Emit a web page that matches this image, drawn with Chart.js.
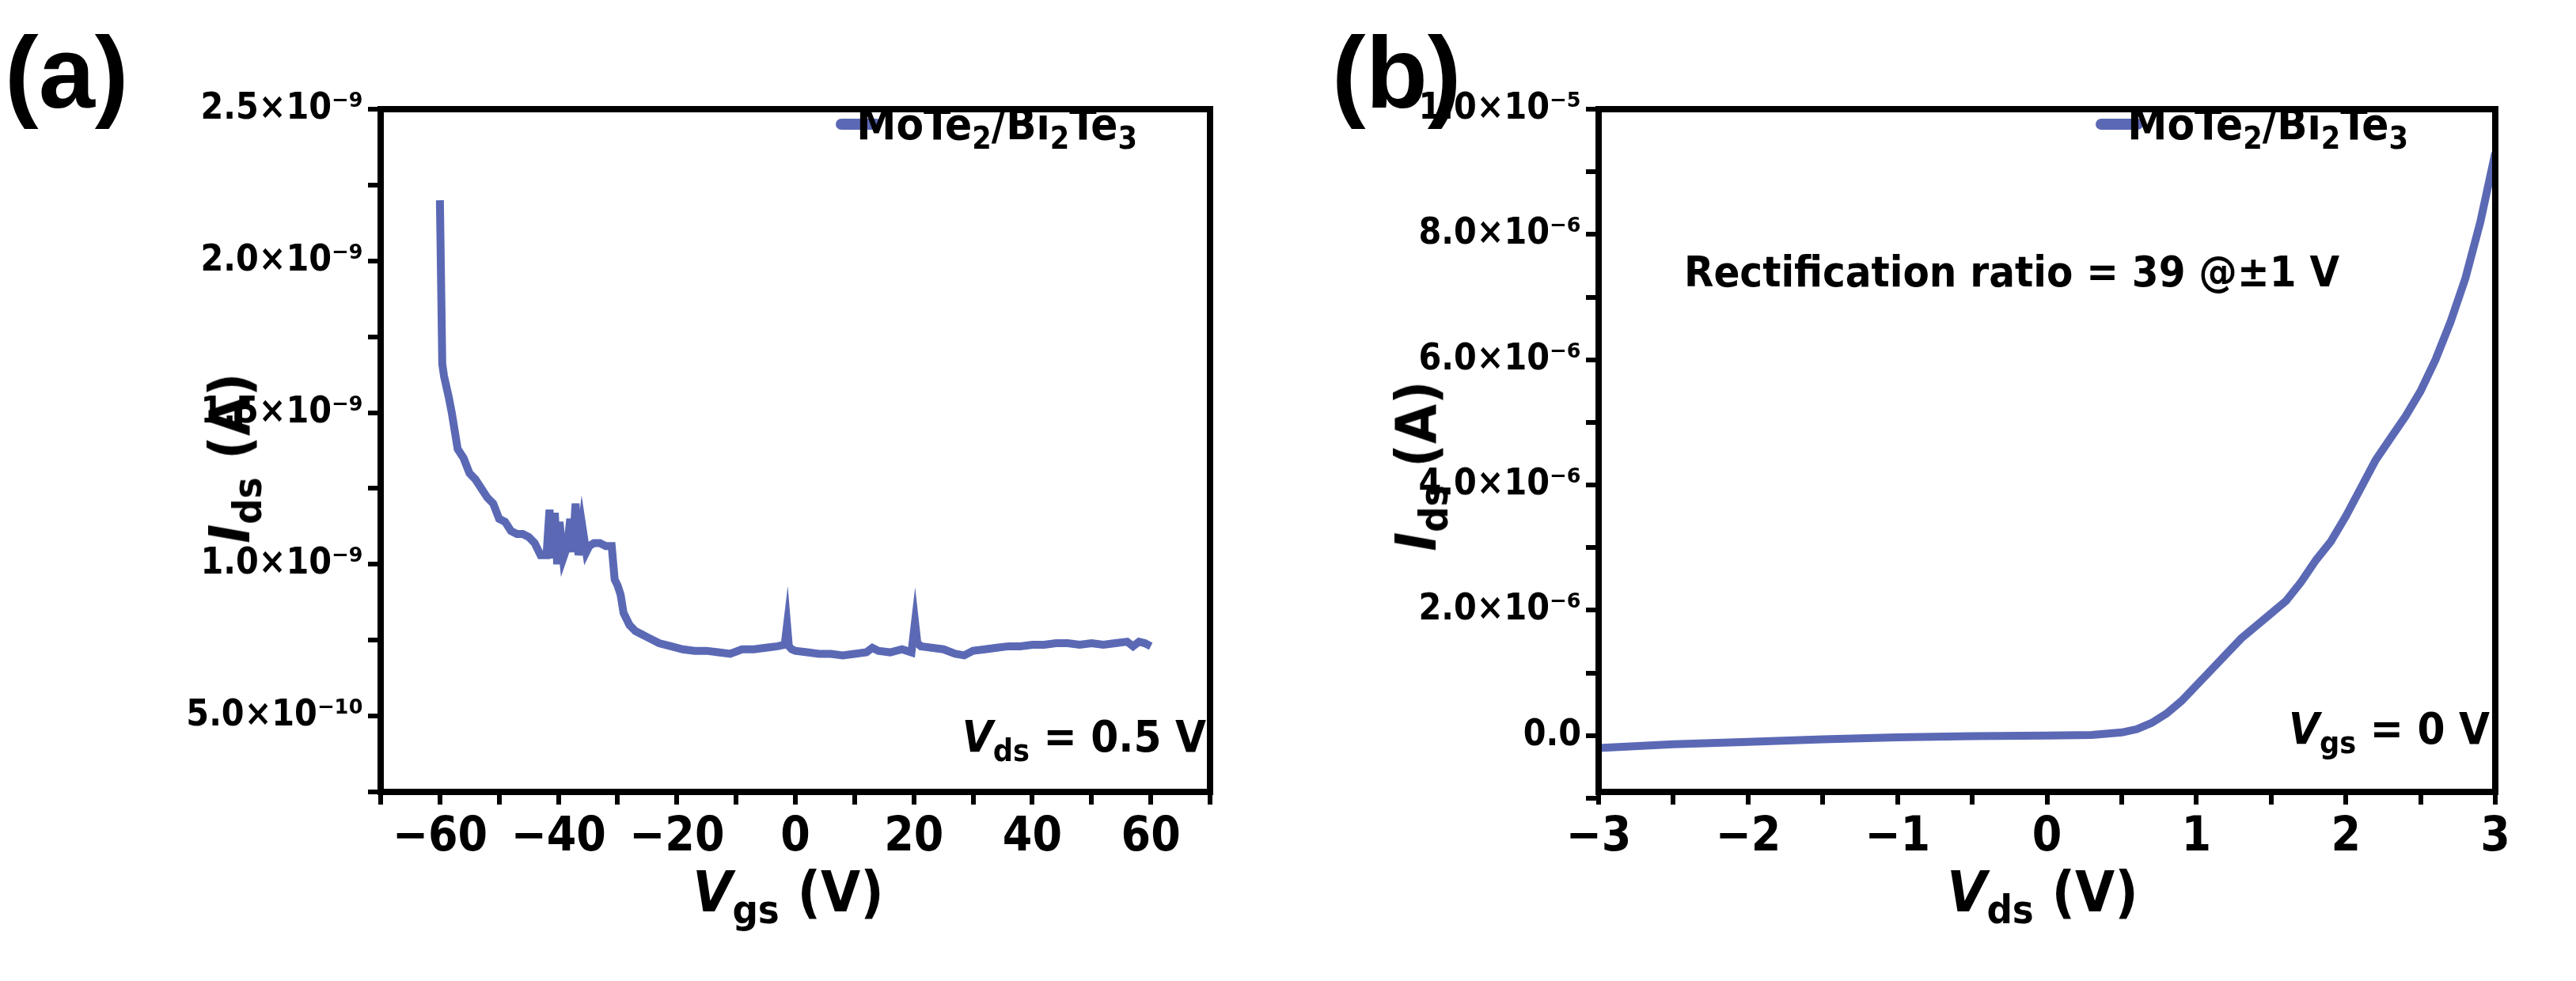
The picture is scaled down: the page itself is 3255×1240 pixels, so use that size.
<!DOCTYPE html>
<html>
<head>
<meta charset="utf-8">
<script src="https://cdn.jsdelivr.net/npm/chart.js@4/dist/chart.umd.min.js"></script>
<style>
  body { margin: 0; width: 3255px; height: 1240px; background: #fff; position: relative; overflow: hidden;
         font-family: "Liberation Sans Narrow", "DejaVu Sans Condensed", sans-serif; font-weight: bold; color: #000; }
  .box { position: absolute; top: 0; height: 1240px; }
  .t { position: absolute; white-space: nowrap; }
  .lg { position: absolute; height: 14px; background: #5b69b5; border-radius: 7px; }
  sub { font-size: 70%; vertical-align: -0.3em; line-height: 0; }
</style>
</head>
<body>
<div class="box" style="left:0;width:1620px"><canvas id="chartA"></canvas></div>
<div class="box" style="left:1620px;width:1635px"><canvas id="chartB"></canvas></div>

<div class="t" style="left:6px;top:18px;font-size:128px;font-family:'Liberation Sans',sans-serif">(a)</div>
<div class="t" style="left:1683px;top:18px;font-size:128px;font-family:'Liberation Sans',sans-serif">(b)</div>

<div class="lg" style="left:1056px;top:150px;width:58px"></div>
<div class="t" style="right:calc(3255px - 1437px);top:124px;font-size:56px">MoTe<sub>2</sub>/Bi<sub>2</sub>Te<sub>3</sub></div>
<div class="lg" style="left:2648px;top:150px;width:60px"></div>
<div class="t" style="right:calc(3255px - 3043px);top:124px;font-size:56px">MoTe<sub>2</sub>/Bi<sub>2</sub>Te<sub>3</sub></div>

<div class="t" style="right:calc(3255px - 1524px);top:898px;font-size:56px"><i>V</i><sub>ds</sub> = 0.5 V</div>
<div class="t" style="right:calc(3255px - 3146px);top:888px;font-size:56px"><i>V</i><sub>gs</sub> = 0 V</div>
<div class="t" style="left:2128px;top:312px;font-size:54px">Rectification ratio = 39 @±1 V</div>

<div class="t" style="left:996px;top:1127px;font-size:72px;transform:translate(-50%,-50%)"><i>V</i><sub>gs</sub> (V)</div>
<div class="t" style="left:2581px;top:1127px;font-size:72px;transform:translate(-50%,-50%)"><i>V</i><sub>ds</sub> (V)</div>
<div class="t" style="left:290px;top:579px;font-size:72px;transform:translate(-50%,-50%) rotate(-90deg)"><i>I</i><sub>ds</sub> (A)</div>
<div class="t" style="left:1789px;top:589px;font-size:72px;transform:translate(-50%,-50%) rotate(-90deg)"><i>I</i><sub>ds</sub> (A)</div>

<script>
// panel (a): transfer curve, Vds = 0.5 V
const vgs = [-60, -59.6, -59.3, -58.5, -58, -57, -56, -55, -54, -53, -52, -51, -50, -49, -48, -47, -46, -45, -44, -43, -42,
  -41.5, -41, -40.6, -40.2, -39.8, -39.2, -38.5, -38, -37.6, -37.1, -36.6, -36, -35.3, -34.8, -34, -33, -32, -31, -30.5, -30,
  -29.5, -29, -28, -27, -26, -25, -23, -21, -19, -17, -15, -13, -11, -9, -7, -5, -3, -1.8, -1.4, -1.1, -0.6, 0,
  2, 4, 6, 8, 10, 12, 13, 14, 16, 18, 19.6, 20.2, 20.6, 21.2, 23, 25, 27, 28.5, 30, 32, 34, 36, 38, 40, 42, 44, 46,
  48, 50, 52, 54, 56, 57, 58, 59, 60];
const idsA = [2.2, 1.66, 1.62, 1.55, 1.5, 1.38, 1.35, 1.3, 1.28, 1.25, 1.22, 1.2, 1.15, 1.14, 1.11, 1.1, 1.1, 1.09, 1.07, 1.03, 1.03,
  1.18, 1.02, 1.17, 1.0, 1.14, 1.02, 1.06, 1.15, 1.04, 1.2, 1.03, 1.13, 1.04, 1.06, 1.07, 1.07, 1.06, 1.06, 0.95, 0.93,
  0.9, 0.84, 0.8, 0.78, 0.77, 0.76, 0.74, 0.73, 0.72, 0.715, 0.715, 0.71, 0.705, 0.72, 0.72, 0.725, 0.73, 0.735, 0.8, 0.73, 0.72, 0.715,
  0.71, 0.705, 0.705, 0.7, 0.705, 0.71, 0.725, 0.715, 0.71, 0.72, 0.71, 0.81, 0.74, 0.73, 0.725, 0.72, 0.705, 0.7, 0.715, 0.72, 0.725, 0.73, 0.73, 0.735, 0.735, 0.74, 0.74,
  0.735, 0.74, 0.735, 0.74, 0.745, 0.73, 0.745, 0.74, 0.73];
const yTicksA = [0.25e-9, 0.5e-9, 0.75e-9, 1.0e-9, 1.25e-9, 1.5e-9, 1.75e-9, 2.0e-9, 2.25e-9, 2.5e-9];
const yLabelsA = ['', '5.0×10⁻¹⁰', '', '1.0×10⁻⁹', '', '1.5×10⁻⁹', '', '2.0×10⁻⁹', '', '2.5×10⁻⁹'];
const xTicksA = [-70, -60, -50, -40, -30, -20, -10, 0, 10, 20, 30, 40, 50, 60, 70];

// panel (b): output curve, Vgs = 0 V
const vds = [-3, -2.5, -2, -1.5, -1, -0.5, 0, 0.3, 0.5, 0.6, 0.7, 0.8, 0.9, 1.0, 1.1, 1.2, 1.3, 1.4, 1.5, 1.6, 1.7,
  1.8, 1.9, 2.0, 2.1, 2.2, 2.3, 2.4, 2.5, 2.6, 2.7, 2.8, 2.9, 3.0];
const idsB = [-0.2, -0.14, -0.1, -0.06, -0.03, -0.01, 0, 0.01, 0.05, 0.1, 0.2, 0.35, 0.55, 0.8, 1.05, 1.3, 1.55, 1.75, 1.95, 2.15, 2.45,
  2.8, 3.1, 3.5, 3.95, 4.4, 4.75, 5.1, 5.5, 6.0, 6.6, 7.3, 8.2, 9.3];
const yTicksB = [-1e-6, 0, 1e-6, 2e-6, 3e-6, 4e-6, 5e-6, 6e-6, 7e-6, 8e-6, 9e-6, 1e-5];
const yLabelsB = ['', '0.0', '', '2.0×10⁻⁶', '', '4.0×10⁻⁶', '', '6.0×10⁻⁶', '', '8.0×10⁻⁶', '', '1.0×10⁻⁵'];
const xTicksB = [-3, -2.5, -2, -1.5, -1, -0.5, 0, 0.5, 1, 1.5, 2, 2.5, 3];

const lineColor = '#5b69b5';
const font = '"Liberation Sans Narrow", "DejaVu Sans Condensed", sans-serif';

const frame = {
  id: 'frame',
  afterDraw(chart) {
    const a = chart.chartArea, c = chart.ctx;
    c.save();
    c.strokeStyle = '#000';
    c.lineWidth = 8;
    c.strokeRect(a.left, a.top, a.right - a.left, a.bottom - a.top);
    c.restore();
  }
};

function makeChart(id, xs, ys, scaleY, xMin, xMax, yMin, yMax, xTicks, xLabel, yTicks, yLabels, area) {
  const pts = xs.map((x, i) => ({ x: x, y: ys[i] * scaleY }));
  return new Chart(document.getElementById(id), {
    type: 'scatter',
    data: { datasets: [{ data: pts, showLine: true, borderColor: lineColor, borderWidth: 10,
      pointRadius: 0, tension: 0 }] },
    plugins: [frame],
    options: {
      responsive: true, maintainAspectRatio: false, animation: false,
      layout: { padding: { top: area.top, right: area.right, left: 0, bottom: 0 } },
      plugins: { legend: { display: false }, tooltip: { enabled: false } },
      scales: {
        x: {
          type: 'linear', min: xMin, max: xMax,
          afterFit(s) { s.height = area.xh; },
          afterBuildTicks(s) { s.ticks = xTicks.map(v => ({ value: v })); },
          grid: { drawOnChartArea: false, color: '#000', lineWidth: 6, tickLength: 16 },
          border: { display: false },
          ticks: { color: '#000', font: { family: font, size: 60, weight: 'bold' }, padding: 6,
            maxRotation: 0, autoSkip: false, callback: xLabel }
        },
        y: {
          type: 'linear', min: yMin, max: yMax,
          afterFit(s) { s.width = area.yw; },
          afterBuildTicks(s) { s.ticks = yTicks.map(v => ({ value: v })); },
          grid: { drawOnChartArea: false, color: '#000', lineWidth: 6, tickLength: 16 },
          border: { display: false },
          ticks: { color: '#000', font: { family: font, size: 46, weight: 'bold' }, padding: 6,
            autoSkip: false, callback: (v, i) => yLabels[i] }
        }
      }
    }
  });
}

makeChart('chartA', vgs, idsA, 1e-9, -70, 70, 0.25e-9, 2.5e-9, xTicksA,
  v => (v % 20 === 0 ? String(v).replace('-', '−') : ''), yTicksA, yLabelsA,
  { top: 138, right: 1620 - 1529, xh: 1240 - 1001, yw: 481 });
makeChart('chartB', vds, idsB, 1e-6, -3, 3, -0.9e-6, 1e-5, xTicksB,
  v => (Number.isInteger(v) ? String(v).replace('-', '−') : ''), yTicksB, yLabelsB,
  { top: 138, right: 1635 - 1533, xh: 1240 - 1001, yw: 400 });
</script>
</body>
</html>
